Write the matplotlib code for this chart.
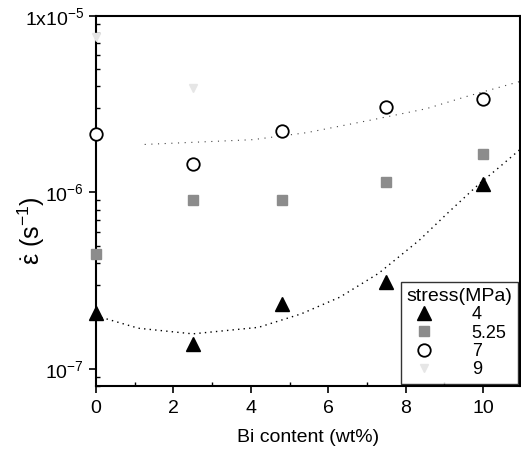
import matplotlib
matplotlib.use("Agg")
import matplotlib.pyplot as plt
from matplotlib.ticker import FixedLocator, LogLocator, NullFormatter, MultipleLocator
import numpy as np

plt.rcParams['font.family'] = ['Liberation Sans', 'DejaVu Sans']
plt.rcParams['mathtext.fontset'] = 'custom'
plt.rcParams['mathtext.rm'] = 'Liberation Sans'
plt.rcParams['mathtext.it'] = 'Liberation Sans'

# data
bi = [0, 2.5, 4.8, 7.5, 10]
rate_4 = [2.07e-7, 1.38e-7, 2.33e-7, 3.1e-7, 1.12e-6]
rate_525 = [4.47e-7, 9.1e-7, 9.1e-7, 1.14e-6, 1.66e-6]
rate_7 = [2.13e-6, 1.44e-6, 2.24e-6, 3.06e-6, 3.4e-6]
bi_9 = [0, 2.5]
rate_9 = [7.6e-6, 3.9e-6]

# fitted curves
fit4_x = [0, 1.1, 2.5, 4.2, 5.3, 6.3, 7.3, 8.35, 9.1, 9.9, 10.4, 10.95]
fit4_y = [2.0e-7, 1.70e-7, 1.58e-7, 1.72e-7, 2.05e-7, 2.55e-7, 3.48e-7, 5.36e-7, 7.7e-7, 1.12e-6, 1.38e-6, 1.75e-6]
fit7_x = [1.26, 4.05, 5.44, 7.14, 8.53, 9.56, 10.93]
fit7_y = [1.87e-6, 1.99e-6, 2.18e-6, 2.58e-6, 2.98e-6, 3.49e-6, 4.24e-6]

legend_labels = ['4', '5.25', '7', '9']

fig = plt.figure(figsize=(5.21, 4.55), dpi=100)
ax = fig.add_axes([0.184, 0.1516, 0.814, 0.8134])

ax.plot(fit4_x, fit4_y, color='black', lw=1.0, ls=(0, (1, 3)))
ax.plot(fit7_x, fit7_y, color='#444444', lw=0.8, ls=(0, (1, 5)))

ax.plot(bi, rate_4, ls='none', marker='^', ms=10.5, color='black', label=legend_labels[0], clip_on=False, zorder=5)
ax.plot(bi, rate_525, ls='none', marker='s', ms=7, color='#8c8c8c', label=legend_labels[1], clip_on=False, zorder=5)
ax.plot(bi, rate_7, ls='none', marker='o', ms=9, mfc='white', mec='black', mew=1.3, label=legend_labels[2], clip_on=False, zorder=5)
ax.plot(bi_9, rate_9, ls='none', marker='v', ms=6, color='#e6e6e6', label=legend_labels[3], clip_on=False, zorder=5)

ax.set_yscale('log')
ax.set_xlim(0, 10.95)
ax.set_ylim(8.0e-8, 1e-5)

ax.yaxis.set_major_locator(FixedLocator([1e-7, 1e-6, 1e-5]))
ax.set_yticklabels([r'$10^{-7}$', r'$10^{-6}$', r'$1\mathrm{x}10^{-5}$'])
ax.yaxis.set_minor_locator(LogLocator(base=10, subs=np.arange(2, 10), numticks=20))
ax.yaxis.set_minor_formatter(NullFormatter())
ax.xaxis.set_major_locator(MultipleLocator(2))
ax.xaxis.set_minor_locator(MultipleLocator(1))

ax.tick_params(axis='y', which='major', direction='out', length=5, width=1.2, labelsize=14, right=False)
ax.tick_params(axis='x', which='major', direction='out', length=5, width=1.2, labelsize=14, top=False, pad=5)
ax.tick_params(axis='both', which='minor', direction='in', length=3, width=1.0, top=False, right=False)
for s in ax.spines.values():
    s.set_linewidth(1.5)

ax.set_xlabel('Bi content (wt%)', fontsize=14, labelpad=9)
ax.set_ylabel(r'$\dot{\varepsilon}$ (s$^{-1}$)', fontsize=18)
ax.yaxis.set_label_coords(-0.115, 0.42)

leg = ax.legend(loc='lower right', title='stress(MPa)', fontsize=13, title_fontsize=14,
                frameon=True, fancybox=False, edgecolor='black', borderaxespad=0.12,
                handletextpad=2.0, labelspacing=0.08, borderpad=0.3, handlelength=1.3)
leg.get_frame().set_linewidth(1.0)
for t in leg.get_texts():
    t.set_ha('center')

fig.savefig('out.png', dpi=100)
